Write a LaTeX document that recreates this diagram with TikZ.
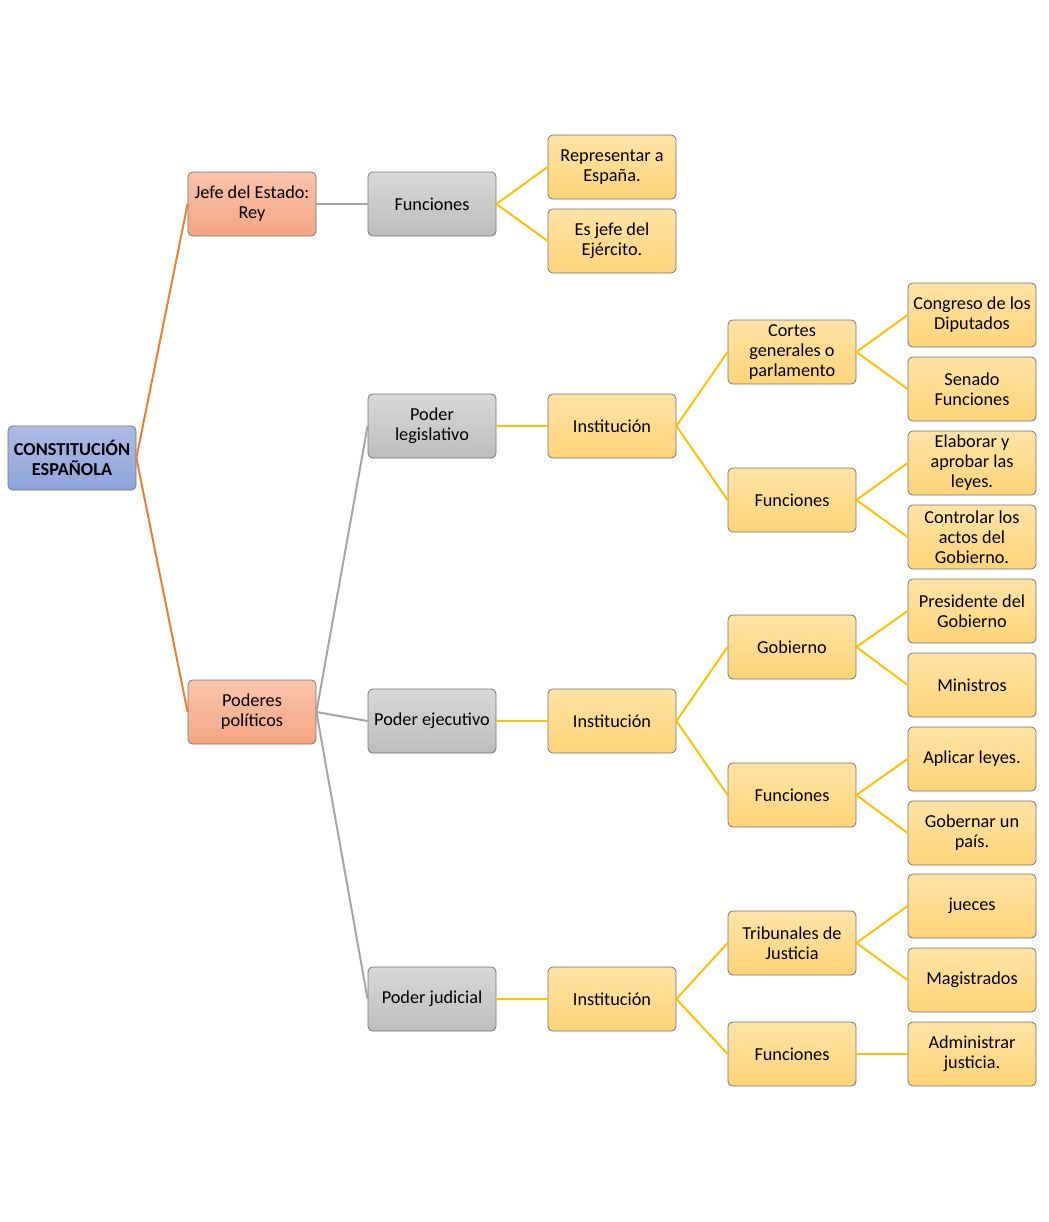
\documentclass[tikz,border=0pt]{standalone}
\usepackage{fontspec}
\setmainfont{Carlito}
\begin{document}
\begin{tikzpicture}[x=0.75pt,y=-0.75pt,
  box/.style={rectangle,rounded corners=3.5pt,draw=black!55,line width=0.6pt,
    minimum width=96pt,minimum height=48pt,inner sep=1pt,align=center,
    font=\fontsize{13.7}{15}\selectfont},
  rootbox/.style={box,top color=blue1,bottom color=blue2,font=\fontsize{13.7}{15}\selectfont\bfseries},
  salbox/.style={box,top color=sal1,bottom color=sal2},
  graybox/.style={box,top color=gr1,bottom color=gr2},
  yelbox/.style={box,top color=yel1,bottom color=yel2},
  oedge/.style={draw=eorange,line width=1.5pt},
  gedge/.style={draw=egray,line width=1.5pt},
  yedge/.style={draw=eyellow,line width=1.5pt}]
\definecolor{blue1}{HTML}{AEBCE4}
\definecolor{blue2}{HTML}{8EA4DA}
\definecolor{sal1}{HTML}{F9C4AC}
\definecolor{sal2}{HTML}{F4A582}
\definecolor{gr1}{HTML}{D8D8D8}
\definecolor{gr2}{HTML}{BDBDBD}
\definecolor{yel1}{HTML}{FFE3A6}
\definecolor{yel2}{HTML}{FFD478}
\definecolor{eorange}{HTML}{ED7D31}
\definecolor{egray}{HTML}{A5A5A5}
\definecolor{eyellow}{HTML}{FFC000}
\useasboundingbox (0,0) rectangle (1049,1222);
% nodes
\node[rootbox] (root) at (72,458) {CONSTITUCIÓN\\ESPAÑOLA};
\node[salbox] (jefe) at (252,204) {Jefe del Estado:\\Rey};
\node[salbox] (pod) at (252,712) {Poderes\\políticos};
\node[graybox] (fun0) at (432,204) {Funciones};
\node[yelbox] (rep) at (612,167) {Representar a\\España.};
\node[yelbox] (ejer) at (612,241) {Es jefe del\\Ejército.};
\node[graybox] (leg) at (432,426) {Poder\\legislativo};
\node[yelbox] (ins1) at (612,426) {Institución};
\node[yelbox] (cor) at (792,352) {Cortes\\generales o\\parlamento};
\node[yelbox] (fun1) at (792,500) {Funciones};
\node[yelbox] (con) at (972,315) {Congreso de los\\Diputados};
\node[yelbox] (sen) at (972,389) {Senado\\Funciones};
\node[yelbox] (ela) at (972,463) {Elaborar y\\aprobar las\\leyes.};
\node[yelbox] (ctl) at (972,537) {Controlar los\\actos del\\Gobierno.};
\node[graybox] (eje) at (432,721) {Poder ejecutivo};
\node[yelbox] (ins2) at (612,721) {Institución};
\node[yelbox] (gob) at (792,647) {Gobierno};
\node[yelbox] (fun2) at (792,795) {Funciones};
\node[yelbox] (pre) at (972,611) {Presidente del\\Gobierno};
\node[yelbox] (min) at (972,685) {Ministros};
\node[yelbox] (apl) at (972,759) {Aplicar leyes.};
\node[yelbox] (gpa) at (972,833) {Gobernar un\\país.};
\node[graybox] (jud) at (432,999) {Poder judicial};
\node[yelbox] (ins3) at (612,999) {Institución};
\node[yelbox] (tri) at (792,943) {Tribunales de\\Justicia};
\node[yelbox] (fun3) at (792,1054) {Funciones};
\node[yelbox] (jue) at (972,906) {jueces};
\node[yelbox] (mag) at (972,980) {Magistrados};
\node[yelbox] (adm) at (972,1054) {Administrar\\justicia.};
% edges
\draw[oedge] (root.east) -- (jefe.west);
\draw[oedge] (root.east) -- (pod.west);
\draw[gedge] (jefe.east) -- (fun0.west);
\draw[gedge] (pod.east) -- (leg.west);
\draw[gedge] (pod.east) -- (eje.west);
\draw[gedge] (pod.east) -- (jud.west);
\draw[yedge] (fun0.east) -- (rep.west);
\draw[yedge] (fun0.east) -- (ejer.west);
\draw[yedge] (leg.east) -- (ins1.west);
\draw[yedge] (ins1.east) -- (cor.west);
\draw[yedge] (ins1.east) -- (fun1.west);
\draw[yedge] (cor.east) -- (con.west);
\draw[yedge] (cor.east) -- (sen.west);
\draw[yedge] (fun1.east) -- (ela.west);
\draw[yedge] (fun1.east) -- (ctl.west);
\draw[yedge] (eje.east) -- (ins2.west);
\draw[yedge] (ins2.east) -- (gob.west);
\draw[yedge] (ins2.east) -- (fun2.west);
\draw[yedge] (gob.east) -- (pre.west);
\draw[yedge] (gob.east) -- (min.west);
\draw[yedge] (fun2.east) -- (apl.west);
\draw[yedge] (fun2.east) -- (gpa.west);
\draw[yedge] (jud.east) -- (ins3.west);
\draw[yedge] (ins3.east) -- (tri.west);
\draw[yedge] (ins3.east) -- (fun3.west);
\draw[yedge] (tri.east) -- (jue.west);
\draw[yedge] (tri.east) -- (mag.west);
\draw[yedge] (fun3.east) -- (adm.west);
\end{tikzpicture}
\end{document}
